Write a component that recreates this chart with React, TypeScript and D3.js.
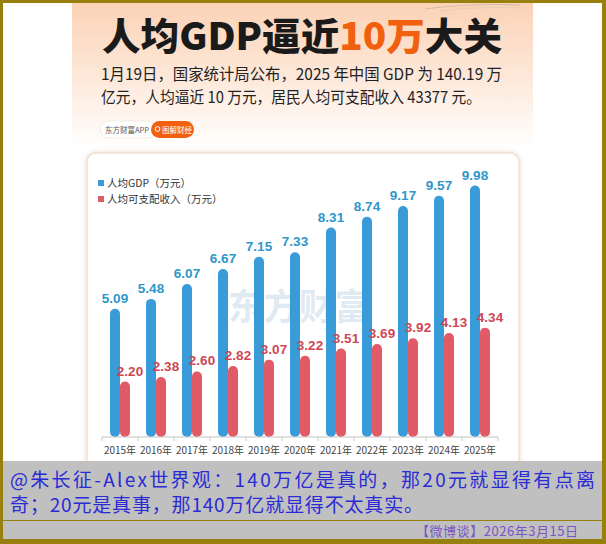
import * as d3 from 'd3';
import { useEffect, useRef } from 'react';

// 年份（横轴）
const years = ['2015年', '2016年', '2017年', '2018年', '2019年', '2020年', '2021年', '2022年', '2023年', '2024年', '2025年'];
// 人均GDP（万元）
const gdpValues = [5.09, 5.48, 6.07, 6.67, 7.15, 7.33, 8.31, 8.74, 9.17, 9.57, 9.98];
// 人均可支配收入（万元）
const incomeValues = [2.2, 2.38, 2.6, 2.82, 3.07, 3.22, 3.51, 3.69, 3.92, 4.13, 4.34];
const seriesNames = ['人均GDP（万元）', '人均可支配收入（万元）'];

const titleParts = [
    { text: '人均GDP逼近', hi: false },
    { text: '10万', hi: true },
    { text: '大关', hi: false },
];
const subtitleLines = [
    '1月19日，国家统计局公布，2025 年中国 GDP 为 140.19 万',
    '亿元，人均逼近 10 万元，居民人均可支配收入 43377 元。',
];
const commentLines = [
    '@朱长征-Alex世界观：140万亿是真的，那20元就显得有点离',
    '奇；20元是真事，那140万亿就显得不太真实。',
];
const dateLabel = '【微博谈】2026年3月15日';

const W = 606;
const H = 544;
const CJK = '"Noto Sans CJK SC", "Noto Sans", sans-serif';
const NUM = '"Liberation Sans", Arial, sans-serif';

function App() {
    const svgRef = useRef<SVGSVGElement>(null);

    useEffect(() => {
        document.body.style.margin = '0';
        const svg = d3.select(svgRef.current);
        svg.selectAll('*').remove();

        const defs = svg.append('defs');
        const grad = defs.append('linearGradient')
            .attr('id', 'topGrad')
            .attr('x1', 0).attr('y1', 0).attr('x2', 0).attr('y2', 1);
        grad.append('stop').attr('offset', '0%').attr('stop-color', '#fbd2b6');
        grad.append('stop').attr('offset', '55%').attr('stop-color', '#fdeadc');
        grad.append('stop').attr('offset', '100%').attr('stop-color', '#ffffff');

        const shadow = defs.append('filter').attr('id', 'cardShadow')
            .attr('x', '-5%').attr('y', '-5%').attr('width', '110%').attr('height', '110%');
        shadow.append('feDropShadow')
            .attr('dx', 0).attr('dy', 0).attr('stdDeviation', 2.5)
            .attr('flood-color', '#e8d2bb').attr('flood-opacity', 0.9);

        // 外框
        svg.append('rect').attr('width', W).attr('height', H).attr('fill', '#98800f');
        svg.append('rect').attr('x', 3).attr('y', 3).attr('width', W - 7).attr('height', H - 8).attr('fill', '#ffffff');

        // 海报顶部渐变
        svg.append('rect').attr('x', 72).attr('y', 3).attr('width', 461).attr('height', 145).attr('fill', 'url(#topGrad)');
        svg.append('path')
            .attr('d', 'M425,9 Q470,3 520,5')
            .attr('fill', 'none').attr('stroke', '#c4b2a2').attr('stroke-width', 1.2).attr('opacity', 0.7);
        svg.append('path')
            .attr('d', 'M440,11 Q480,6 525,8')
            .attr('fill', 'none').attr('stroke', '#d9c8b8').attr('stroke-width', 1).attr('opacity', 0.6);

        // 标题
        const title = svg.append('text')
            .attr('x', 102).attr('y', 50)
            .attr('textLength', 400).attr('lengthAdjust', 'spacingAndGlyphs')
            .attr('font-family', CJK).attr('font-size', 38).attr('font-weight', 900);
        title.selectAll('tspan')
            .data(titleParts)
            .join('tspan')
            .attr('fill', d => d.hi ? '#f0600f' : '#1a1a1a')
            .text(d => d.text);

        // 副标题
        svg.selectAll('text.sub')
            .data(subtitleLines)
            .join('text')
            .attr('class', 'sub')
            .attr('x', 101)
            .attr('y', (d, i) => 80 + i * 23)
            .attr('textLength', (d, i) => i === 0 ? 401 : 380)
            .attr('lengthAdjust', 'spacingAndGlyphs')
            .attr('font-family', CJK).attr('font-size', 16)
            .attr('fill', '#222')
            .text(d => d);

        // 标签
        svg.append('rect').attr('x', 100).attr('y', 121).attr('width', 56).attr('height', 17).attr('rx', 8.5)
            .attr('fill', '#ffffff').attr('stroke', '#f3ebe4');
        svg.append('text').attr('x', 105).attr('y', 132.5)
            .attr('font-family', CJK).attr('font-size', 7.5).attr('fill', '#555')
            .text('东方财富APP');
        svg.append('rect').attr('x', 151).attr('y', 121).attr('width', 43).attr('height', 17).attr('rx', 8.5)
            .attr('fill', '#f0600f');
        svg.append('circle').attr('cx', 157.5).attr('cy', 129).attr('r', 2.4)
            .attr('fill', 'none').attr('stroke', '#fff').attr('stroke-width', 1);
        svg.append('text').attr('x', 162).attr('y', 132.5)
            .attr('font-family', CJK).attr('font-size', 7.5).attr('fill', '#fff')
            .text('图解财经');

        // 图表卡片
        svg.append('rect')
            .attr('x', 87).attr('y', 153).attr('width', 432).attr('height', 330).attr('rx', 9)
            .attr('fill', '#ffffff').attr('stroke', '#f1e3d3').attr('stroke-width', 1.5)
            .attr('filter', 'url(#cardShadow)');

        // 水印
        svg.append('text')
            .attr('x', 299).attr('y', 320).attr('text-anchor', 'middle')
            .attr('font-family', CJK).attr('font-size', 36).attr('font-weight', 700)
            .attr('fill', '#d9e5ef').attr('opacity', 0.8)
            .attr('textLength', 142).attr('lengthAdjust', 'spacingAndGlyphs')
            .text('东方财富');

        // 比例尺
        const x = d3.scaleBand().domain(years).range([102, 498]);
        const xSub = d3.scaleBand().domain(['gdp', 'income']).range([-10, 10]);
        const y = d3.scaleLinear().domain([0, 10]).range([437, 185]);

        const blue = '#3a9bd9';
        const red = '#e15b67';
        const bw = xSub.bandwidth();
        const cx = (d: string) => (x(d) as number) + x.bandwidth() / 2;

        // 人均GDP柱
        svg.append('g').selectAll('rect')
            .data(years)
            .join('rect')
            .attr('x', d => cx(d) + (xSub('gdp') as number))
            .attr('y', (d, i) => y(gdpValues[i]))
            .attr('width', bw)
            .attr('height', (d, i) => y(0) - y(gdpValues[i]))
            .attr('rx', bw / 2)
            .attr('fill', blue);

        // 人均可支配收入柱
        svg.append('g').selectAll('rect')
            .data(years)
            .join('rect')
            .attr('x', d => cx(d) + (xSub('income') as number))
            .attr('y', (d, i) => y(incomeValues[i]))
            .attr('width', bw)
            .attr('height', (d, i) => y(0) - y(incomeValues[i]))
            .attr('rx', bw / 2)
            .attr('fill', red);

        // 数值标签
        svg.append('g').selectAll('text')
            .data(years)
            .join('text')
            .attr('x', d => cx(d) + (xSub('gdp') as number) + bw / 2)
            .attr('y', (d, i) => y(gdpValues[i]) - 6)
            .attr('text-anchor', 'middle')
            .attr('font-family', NUM).attr('font-size', 13.5).attr('font-weight', 700)
            .attr('fill', '#2f96c9')
            .text((d, i) => gdpValues[i].toFixed(2));

        svg.append('g').selectAll('text')
            .data(years)
            .join('text')
            .attr('x', d => cx(d) + (xSub('income') as number) + bw / 2 + 5)
            .attr('y', (d, i) => y(incomeValues[i]) - 6)
            .attr('text-anchor', 'middle')
            .attr('font-family', NUM).attr('font-size', 13.5).attr('font-weight', 700)
            .attr('fill', '#cc4853')
            .text((d, i) => incomeValues[i].toFixed(2));

        // 横轴
        const axis = svg.append('g')
            .attr('transform', `translate(0,${y(0)})`)
            .call(d3.axisBottom(x).tickSize(0).tickPadding(10));
        axis.select('.domain').remove();
        axis.selectAll('text')
            .attr('font-family', CJK).attr('font-size', 10).attr('fill', '#444');
        svg.append('line')
            .attr('x1', 102).attr('x2', 498).attr('y1', y(0)).attr('y2', y(0))
            .attr('stroke', '#c4c4c4');
        svg.append('g').selectAll('line')
            .data([...years.map(d => x(d) as number), 498])
            .join('line')
            .attr('x1', d => d).attr('x2', d => d)
            .attr('y1', y(0)).attr('y2', y(0) + 4)
            .attr('stroke', '#c4c4c4');

        // 图例
        const legend = svg.append('g').selectAll('g')
            .data(seriesNames)
            .join('g')
            .attr('transform', (d, i) => `translate(98,${183 + i * 16})`);
        legend.append('rect')
            .attr('x', 0).attr('y', -3).attr('width', 6).attr('height', 6)
            .attr('fill', (d, i) => i === 0 ? blue : red);
        legend.append('text')
            .attr('x', 9).attr('y', 4)
            .attr('font-family', CJK).attr('font-size', 10.5).attr('fill', '#333')
            .text(d => d);

        // 底部评论区
        svg.append('rect').attr('x', 3).attr('y', 461).attr('width', W - 7).attr('height', 78).attr('fill', '#c0c0c0');
        svg.append('line').attr('x1', 3).attr('x2', W - 4).attr('y1', 520.5).attr('y2', 520.5)
            .attr('stroke', '#98800f').attr('stroke-width', 1.2);
        svg.selectAll('text.comment')
            .data(commentLines)
            .join('text')
            .attr('class', 'comment')
            .attr('x', 10)
            .attr('y', (d, i) => 487 + i * 25)
            .attr('textLength', (d, i) => i === 0 ? 585 : 413)
            .attr('lengthAdjust', 'spacing')
            .attr('font-family', CJK).attr('font-size', 19)
            .attr('fill', '#2b2bd6')
            .text(d => d);
        svg.append('text')
            .attr('x', 416).attr('y', 536)
            .attr('textLength', 162).attr('lengthAdjust', 'spacing')
            .attr('font-family', CJK).attr('font-size', 13)
            .attr('fill', '#7a55c6')
            .text(dateLabel);
    }, []);

    return <svg ref={svgRef} width={W} height={H} style={{ display: 'block' }} />;
}

export default App;
